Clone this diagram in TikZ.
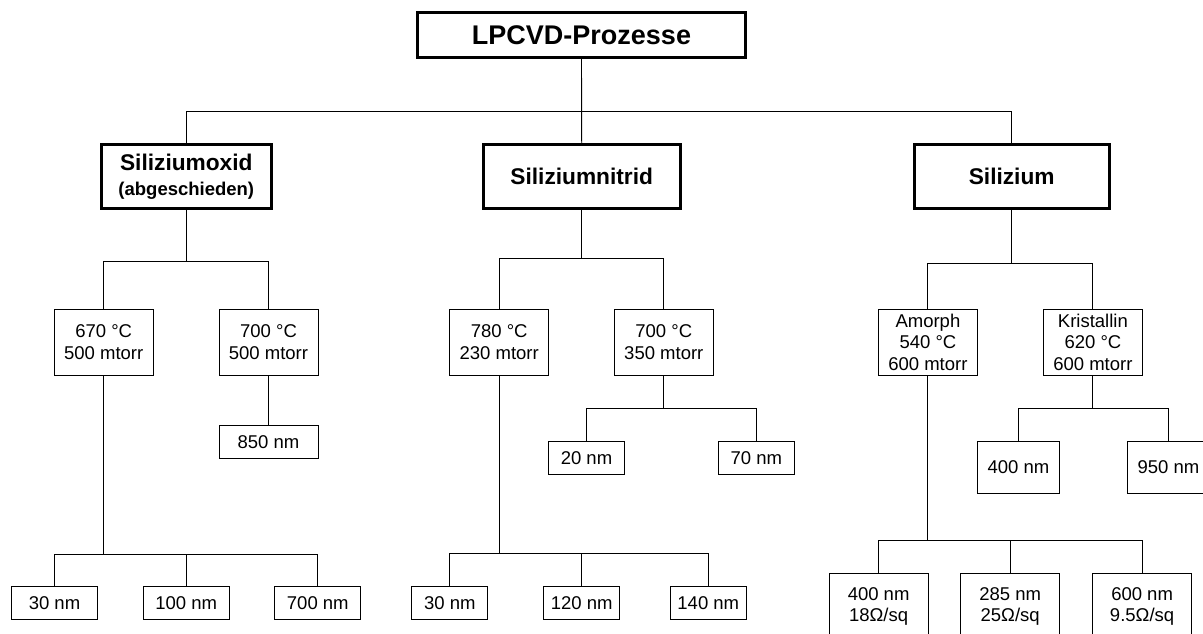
\documentclass[tikz,border=0pt]{standalone}
\usepackage{fontspec}
\setsansfont{Liberation Sans}
\usetikzlibrary{positioning}

\begin{document}
\begin{tikzpicture}[
  x=1pt, y=1pt,
  font=\sffamily\fontsize{18.5}{21.6}\selectfont,
  box/.style={draw, line width=1pt, align=center, inner sep=0pt, minimum width=99pt, minimum height=66pt},
  leaf/.style={box, minimum height=33pt},
  main/.style={box, line width=2.6pt, minimum height=64pt, font=\sffamily\bfseries\fontsize{22.7}{24}\selectfont},
  link/.style={line width=0.9pt}
]
\clip (0,0) rectangle (1203,-634);

\node[main, minimum width=328pt, minimum height=45pt, font=\sffamily\bfseries\fontsize{27}{30}\selectfont] (top) at (581.5,-35.3) {LPCVD-Prozesse};

\node[main, minimum width=170pt] (oxid) at (186.3,-176.7) {Siliziumoxid\\[1.5pt]{\fontsize{18.5}{20}\selectfont(abgeschieden)}};
\node[main, minimum width=197pt] (nitrid) at (581.7,-176.7) {Siliziumnitrid};
\node[main, minimum width=195pt] (sil) at (1011.7,-176.7) {Silizium};

% Siliziumoxid
\node[box] (ox1) at (103.7,-342.2) {670 °C\\500 mtorr};
\node[box] (ox2) at (268.5,-342.2) {700 °C\\500 mtorr};
\node[leaf, below=49pt of ox2] (ox850) {850 nm};
\node[leaf, minimum width=86pt] (ox30) at (54.5,-602.7) {30 nm};
\node[leaf, minimum width=86pt] (ox100) at (186.2,-602.7) {100 nm};
\node[leaf, minimum width=86pt] (ox700) at (317.8,-602.7) {700 nm};

% Siliziumnitrid
\node[box] (ni1) at (499.2,-342.3) {780 °C\\230 mtorr};
\node[box] (ni2) at (663.8,-342.3) {700 °C\\350 mtorr};
\node[leaf, minimum width=76pt] (ni20) at (586.5,-457.7) {20 nm};
\node[leaf, minimum width=76pt] (ni70) at (756.3,-457.7) {70 nm};
\node[leaf, minimum width=76pt] (ni30) at (449.9,-602.7) {30 nm};
\node[leaf, minimum width=76pt] (ni120) at (581.7,-602.7) {120 nm};
\node[leaf, minimum width=76pt] (ni140) at (708.3,-602.7) {140 nm};

% Silizium
\node[box] (amo) at (927.9,-342.3) {Amorph\\540 °C\\600 mtorr};
\node[box] (kri) at (1092.9,-342.3) {Kristallin\\620 °C\\600 mtorr};
\node[box, minimum width=82pt, minimum height=52.7pt] (kri400) at (1018.5,-467.4) {400 nm};
\node[box, minimum width=82pt, minimum height=52.7pt] (kri950) at (1168.5,-467.4) {950 nm};
\node[box] (amo400) at (878.6,-606.3) {400 nm\\18Ω/sq};
\node[box] (amo285) at (1010.2,-606.3) {285 nm\\25Ω/sq};
\node[box] (amo600) at (1142.1,-606.3) {600 nm\\9.5Ω/sq};

\draw[link] (top.south) -- ++(0,-52) -| (oxid.north);
\draw[link] (top.south) -- (nitrid.north);
\draw[link] (top.south) -- ++(0,-52) -| (sil.north);

\draw[link] (oxid.south) -- ++(0,-51.3) -| (ox1.north);
\draw[link] (oxid.south) -- ++(0,-51.3) -| (ox2.north);
\draw[link] (ox2.south) -- (ox850.north);
\draw[link] (ox1.south) -- ++(0,-178.3) -| (ox30.north);
\draw[link] (ox1.south) -- ++(0,-178.3) -| (ox100.north);
\draw[link] (ox1.south) -- ++(0,-178.3) -| (ox700.north);

\draw[link] (nitrid.south) -- ++(0,-48) -| (ni1.north);
\draw[link] (nitrid.south) -- ++(0,-48) -| (ni2.north);
\draw[link] (ni2.south) -- ++(0,-32.7) -| (ni20.north);
\draw[link] (ni2.south) -- ++(0,-32.7) -| (ni70.north);
\draw[link] (ni1.south) -- ++(0,-178) -| (ni30.north);
\draw[link] (ni1.south) -- ++(0,-178) -| (ni120.north);
\draw[link] (ni1.south) -- ++(0,-178) -| (ni140.north);

\draw[link] (sil.south) -- ++(0,-53) -| (amo.north);
\draw[link] (sil.south) -- ++(0,-53) -| (kri.north);
\draw[link] (kri.south) -- ++(0,-33) -| (kri400.north);
\draw[link] (kri.south) -- ++(0,-33) -| (kri950.north);
\draw[link] (amo.south) -- ++(0,-164.7) -| (amo400.north);
\draw[link] (amo.south) -- ++(0,-164.7) -| (amo285.north);
\draw[link] (amo.south) -- ++(0,-164.7) -| (amo600.north);
\end{tikzpicture}
\end{document}
